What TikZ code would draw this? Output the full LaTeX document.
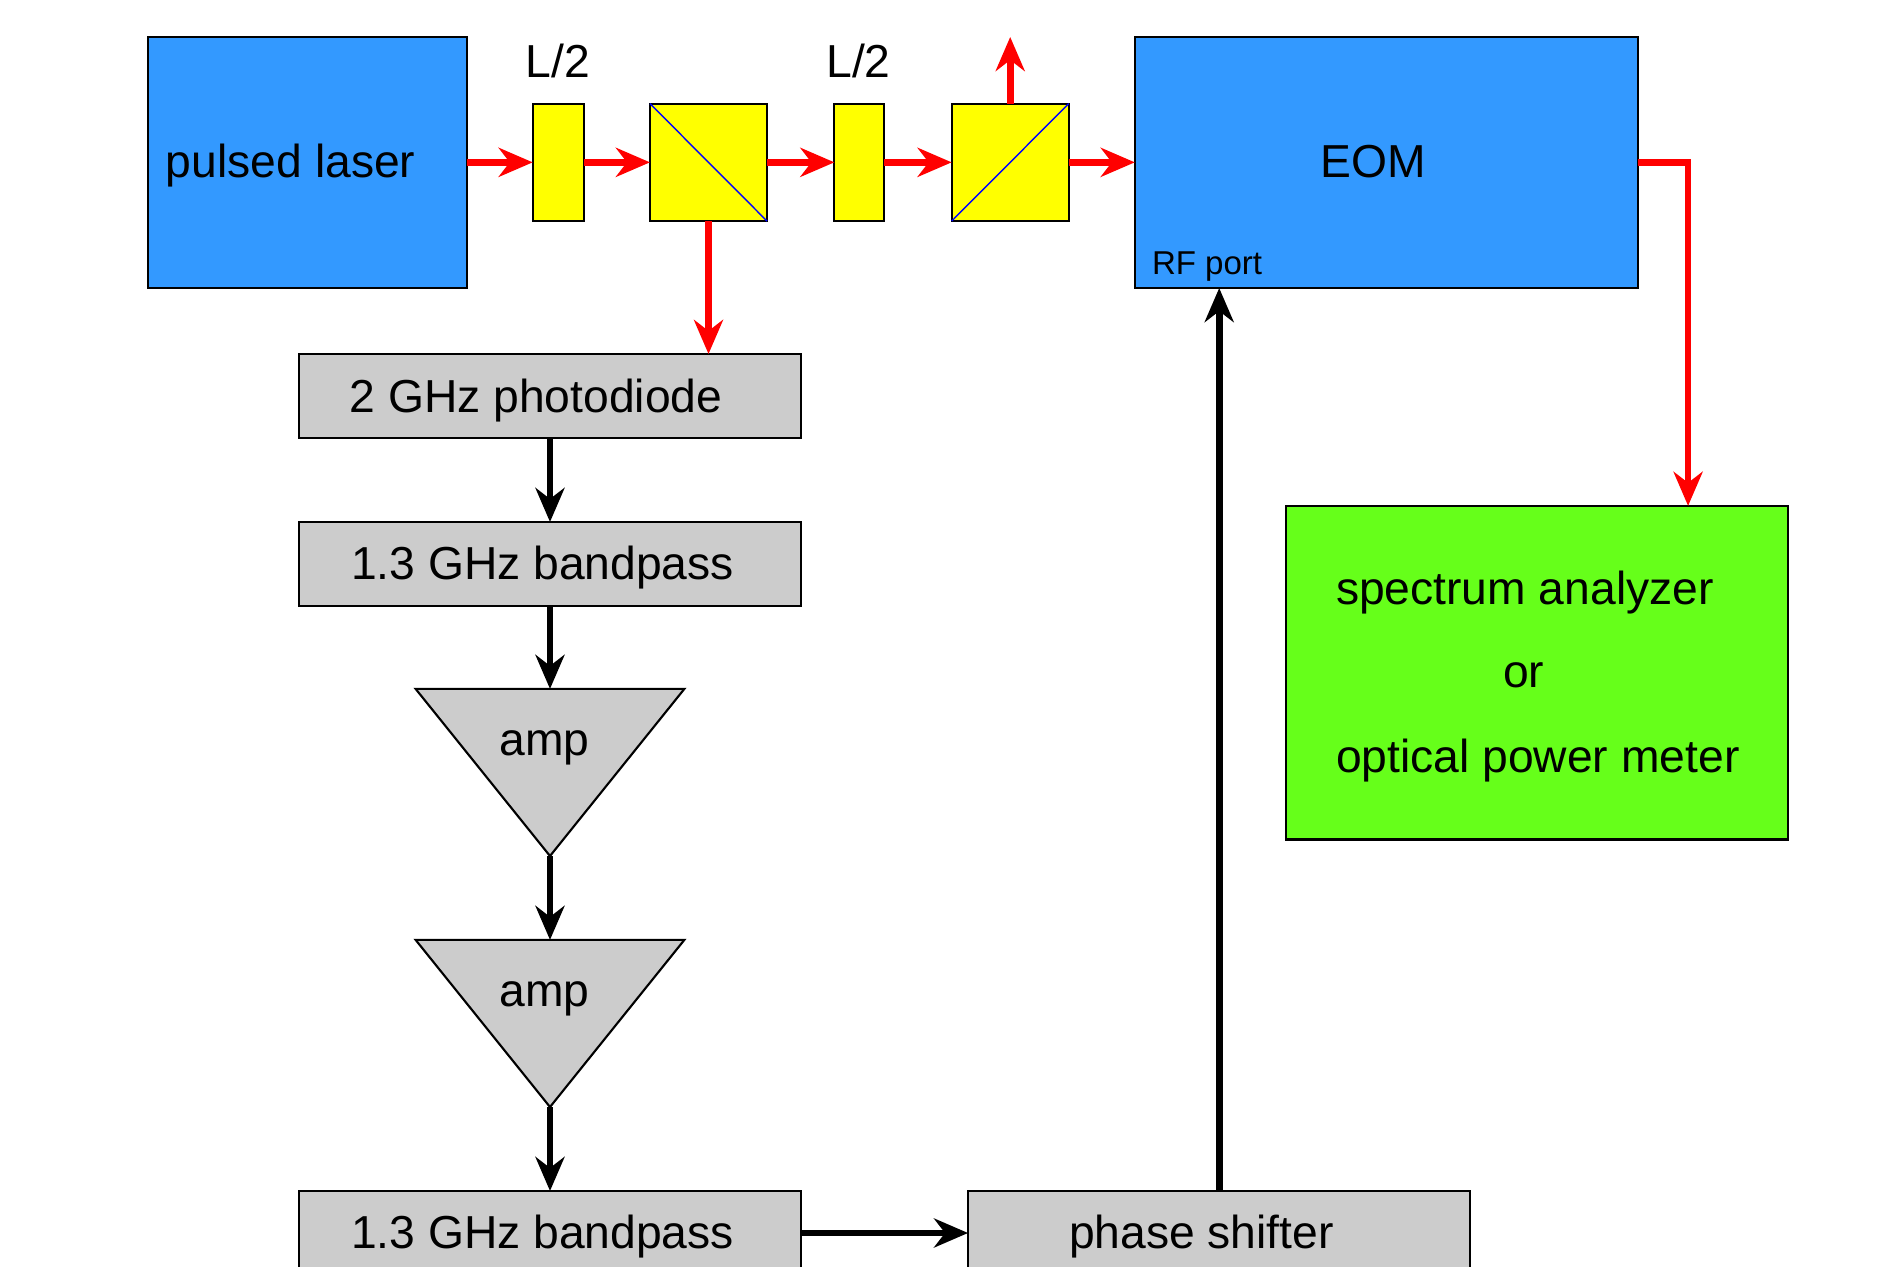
\documentclass[tikz,border=0pt]{standalone}
\usepackage{fontspec}
\setmainfont{Liberation Sans}
\usetikzlibrary{arrows.meta, shapes.geometric}
\definecolor{eomblue}{HTML}{3399FF}
\definecolor{metergreen}{HTML}{66FF1A}
\definecolor{boxgray}{HTML}{CCCCCC}
\definecolor{optyellow}{HTML}{FFFF00}
\tikzset{
  unit/.style={draw=black, line width=0.6pt, inner sep=0pt, outer sep=0pt},
  bluebox/.style={unit, fill=eomblue, minimum width=#1, minimum height=2.513cm},
  optic/.style={unit, fill=optyellow, minimum width=#1, minimum height=1.174cm},
  graybox/.style={unit, fill=boxgray, minimum width=5.02cm, minimum height=0.84cm},
  ampbox/.style={unit, fill=boxgray, isosceles triangle, shape border rotate=270,
    isosceles triangle apex angle=77.6, minimum height=1.67cm, anchor=apex},
  lab/.style={inner sep=0pt, outer sep=0pt, font=\fontsize{13.15}{15}\selectfont},
  beam/.style={-{Stealth[length=3.4mm, width=2.9mm, inset=1.1mm]}, red, line width=1.9pt},
  wire/.style={-{Stealth[length=3.4mm, width=2.9mm, inset=1.1mm]}, black, line width=1.9pt},
}
\begin{document}
\begin{tikzpicture}[x=0.01cm, y=-0.01cm]
\path[use as bounding box, clip] (0,0) rectangle (1899,1267);
% top row
\node[bluebox=3.185cm] (laser) at (307.25,162.35) {};
\node[bluebox=5.025cm] (eom) at (1386.2,162.35) {};
\node[optic=0.509cm] (hwa) at (558.2,162.35) {};
\node[optic=1.17cm] (pbsa) at (708.5,162.35) {};
\node[optic=0.496cm] (hwb) at (859.2,162.35) {};
\node[optic=1.17cm] (pbsb) at (1010.2,162.35) {};
% splitting faces of the cubes
\draw[blue, line width=0.4pt] (pbsa.north west) -- (pbsa.south east);
\draw[blue, line width=0.4pt] (pbsb.south west) -- (pbsb.north east);
% output box
\node[unit, fill=metergreen, minimum width=5.02cm, minimum height=3.335cm] (meter) at (1537,672.7) {};
% electronics chain
\node[graybox] (diode) at (550,396) {};
\node[graybox] (filta) at (550,564) {};
\node[ampbox] (ampa) at (550,856) {};
\node[ampbox] (ampb) at (550,1107) {};
\node[graybox] (filtb) at (550,1233) {};
\node[graybox] (shifter) at (1219.2,1233) {};
% labels
\node[lab, anchor=base west] (lasertxt) at (166,178) {pulsed laser};
\node[lab, anchor=base] (hwatxt) at (557.7,77.3) {L/2};
\node[lab, anchor=base] (hwbtxt) at (858.5,77.3) {L/2};
\node[lab, anchor=base] (eomtxt) at (1373,178) {EOM};
\node[lab, anchor=base west, font=\fontsize{9.4}{11}\selectfont] (rftxt) at (1152,275) {RF port};
\node[lab, anchor=base west] (diodetxt) at (349.5,413) {2 GHz photodiode};
\node[lab, anchor=base west] (filtatxt) at (351,580) {1.3 GHz bandpass};
\node[lab, anchor=base] (ampatxt) at (544.5,756) {amp};
\node[lab, anchor=base] (ampbtxt) at (544.5,1006.5) {amp};
\node[lab, anchor=base west] (filtbtxt) at (351,1248.5) {1.3 GHz bandpass};
\node[lab, anchor=base west] (shiftertxt) at (1069,1248.5) {phase shifter};
\node[lab, anchor=base west] (metera) at (1336,605) {spectrum analyzer};
\node[lab, anchor=base] (meterb) at (1523.6,688) {or};
\node[lab, anchor=base west] (meterc) at (1336,772.5) {optical power meter};
% optical path
\foreach \a/\b in {laser/hwa, hwa/pbsa, pbsa/hwb, hwb/pbsb, pbsb/eom} {
  \draw[beam] (\a.east) -- (\b.west);
}
\coordinate (dump) at (1010.2,37);
\draw[beam] (pbsb.north) -- (dump);
\draw[beam] (pbsa.south) -- (pbsa.south |- diode.north);
\draw[beam] (eom.east) -| ([xshift=1.51cm]meter.north);
% rf path
\draw[wire] (diode.south) -- (filta.north);
\draw[wire] (filta.south) -- (ampa.lower side);
\draw[wire] (ampa.apex) -- (ampb.lower side);
\draw[wire] (ampb.apex) -- (filtb.north);
\draw[wire] (filtb.east) -- (shifter.west);
\draw[wire] (shifter.north) -- (shifter.north |- eom.south);
\end{tikzpicture}
\end{document}
